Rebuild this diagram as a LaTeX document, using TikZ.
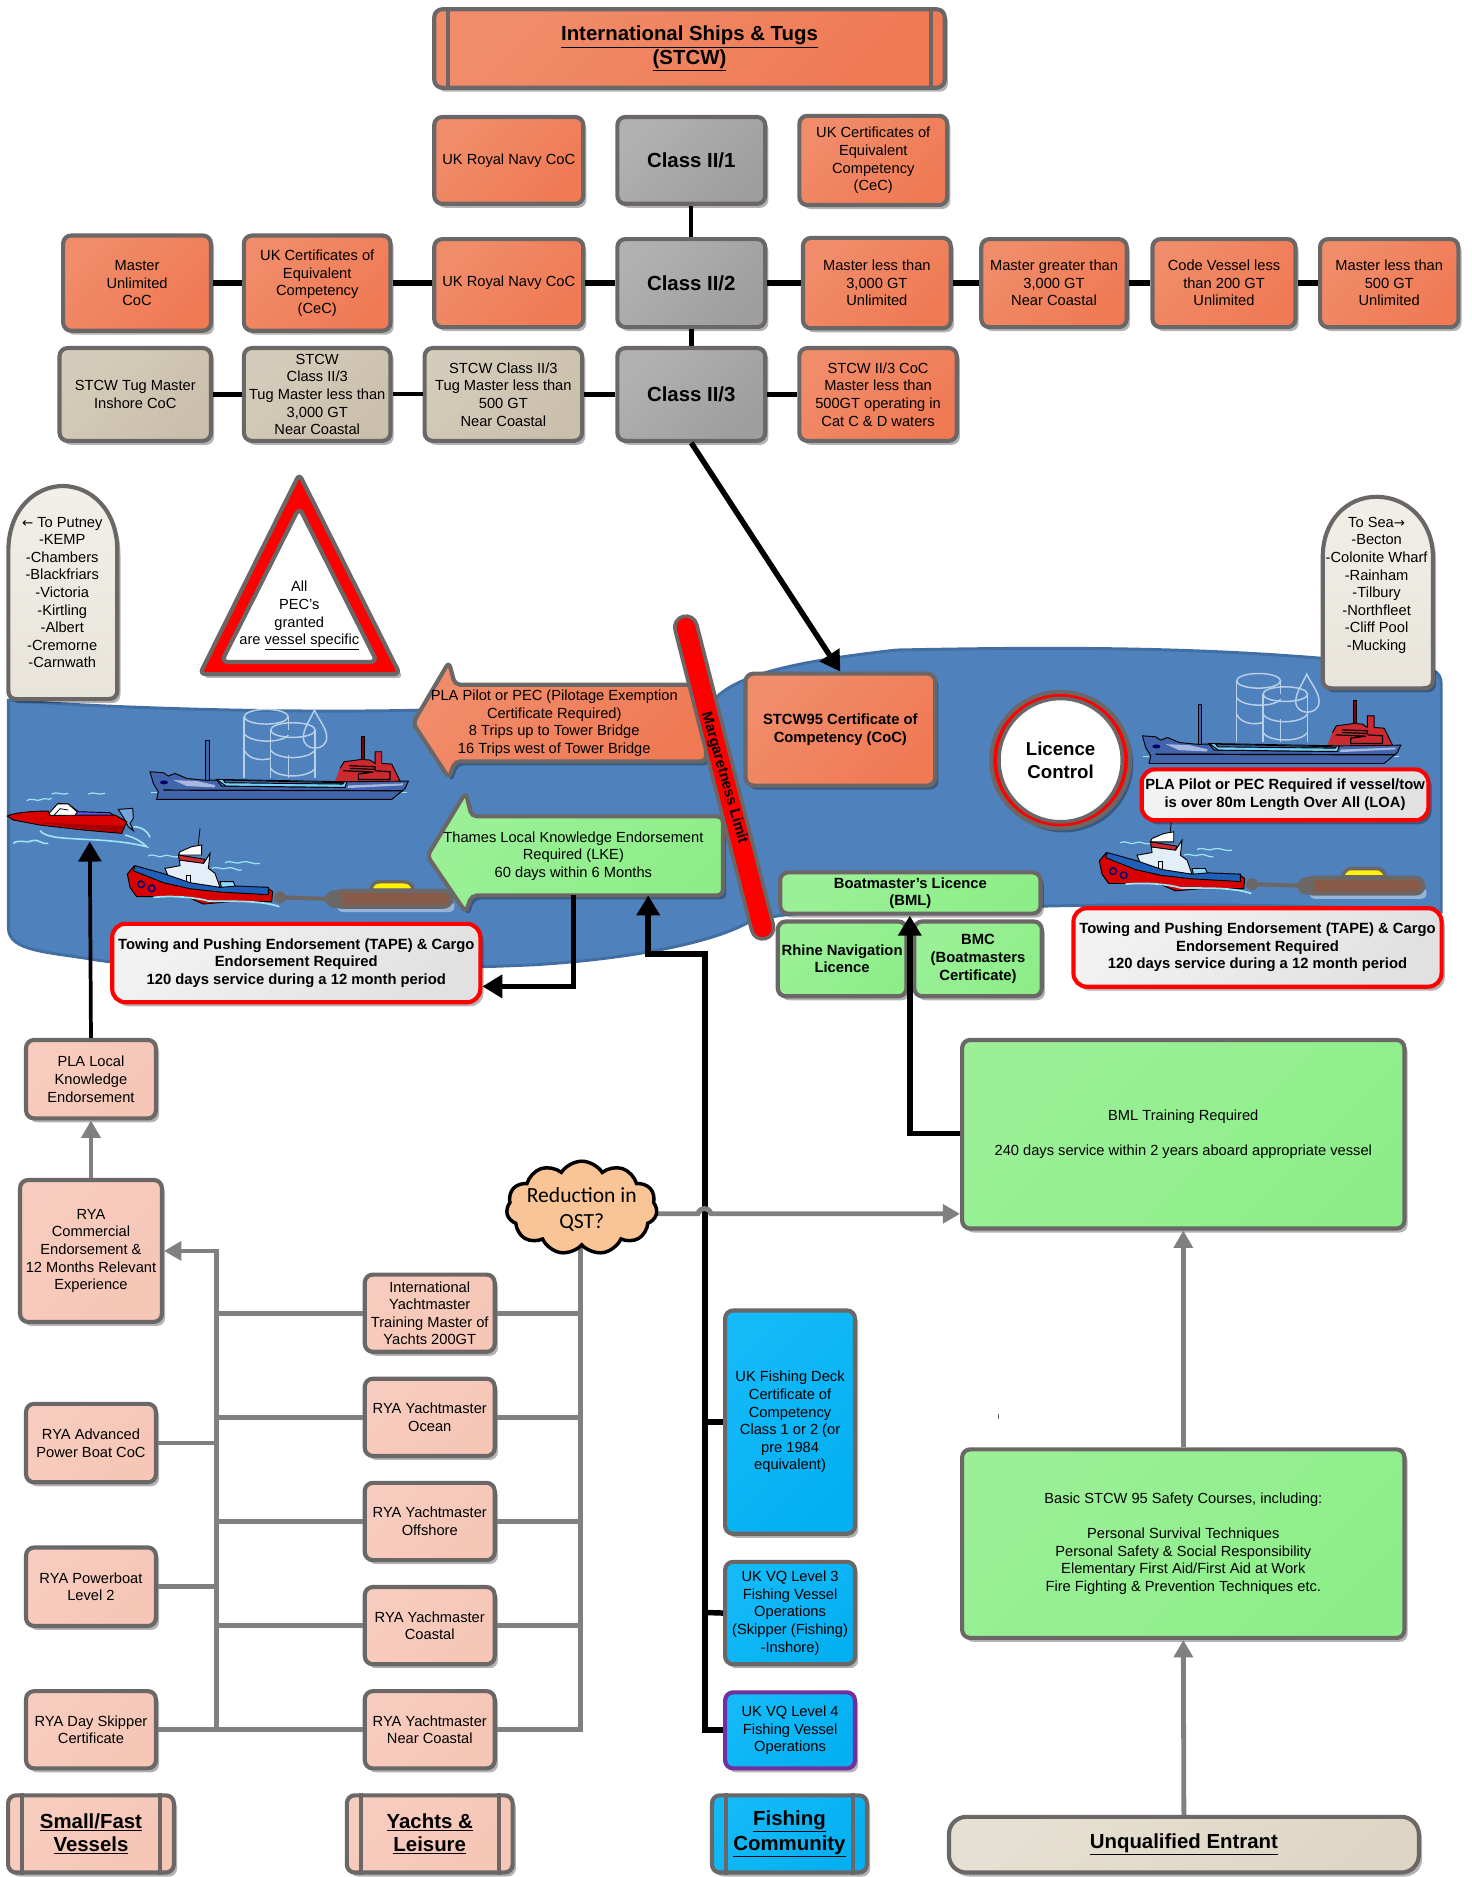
\documentclass[tikz,border=0pt]{standalone}
\usepackage{fontspec}
\setmainfont{Liberation Sans}
\newfontfamily\cloudfont{Carlito}
\newfontfamily\arrowfont{DejaVu Sans}
\usetikzlibrary{arrows.meta,shadows,shapes.symbols}
\definecolor{edgegray}{HTML}{6B6767}
\definecolor{river}{HTML}{4F81BD}
\definecolor{orangeA}{HTML}{F18C6A}
\definecolor{orangeB}{HTML}{EF7A54}
\definecolor{grayA}{HTML}{B1B1B1}
\definecolor{grayB}{HTML}{9E9E9E}
\definecolor{tanA}{HTML}{D4CCBA}
\definecolor{tanB}{HTML}{CABFAB}
\definecolor{pinkA}{HTML}{F7CCBE}
\definecolor{pinkB}{HTML}{F6C6B6}
\definecolor{greenA}{HTML}{9BF097}
\definecolor{greenB}{HTML}{8DEE89}
\definecolor{blueA}{HTML}{14BAF8}
\definecolor{blueB}{HTML}{04B0F1}
\definecolor{whiteA}{HTML}{F2F2F2}
\definecolor{whiteB}{HTML}{E1E1E1}
\definecolor{stoneA}{HTML}{F1EFE9}
\definecolor{stoneB}{HTML}{E8E4DB}
\definecolor{sandA}{HTML}{E6E0D2}
\definecolor{sandB}{HTML}{DED6C5}
\definecolor{wave}{HTML}{9FE6F5}
\definecolor{tankline}{HTML}{B8CFE8}
\definecolor{hullblue}{HTML}{4264AB}
\definecolor{hullpale}{HTML}{A8B8E0}
\definecolor{shipred}{HTML}{CC2A30}
\definecolor{tugblue}{HTML}{1F5FB8}
\definecolor{cabin}{HTML}{E3EEF9}
\definecolor{brownlog}{HTML}{8A5A48}
\definecolor{cloudfill}{HTML}{FAC596}
\definecolor{linegray}{HTML}{808080}
\definecolor{purpleedge}{HTML}{7030A0}
\newcommand\fsm{\fontsize{11}{13.2}\selectfont}
\newcommand\fsb{\fontsize{11.1}{13.2}\selectfont\bfseries}
\newcommand\flg{\fontsize{15.3}{17.6}\selectfont\bfseries}
\newcommand\flc{\fontsize{14}{17}\selectfont\bfseries}
\newcommand\arw[1]{{\arrowfont\fontsize{10}{13.2}\selectfont #1}}
\tikzset{
  softshadow/.style={drop shadow={shadow xshift=2.4pt,shadow yshift=-3pt,opacity=.3,fill=black}},
  basebox/.style={draw=edgegray,line width=3.1pt,rounded corners=6pt,inner sep=0pt,align=center,softshadow,font=\fsm,text=black},
  tint/.style 2 args={top color=#1,bottom color=#2,shading angle=45},
  orangebox/.style={basebox,tint={orangeA}{orangeB}},
  graybox/.style={basebox,tint={grayA}{grayB},font=\flg},
  tanbox/.style={basebox,tint={tanA}{tanB}},
  pinkbox/.style={basebox,tint={pinkA}{pinkB}},
  greenbox/.style={basebox,tint={greenA}{greenB}},
  bluebox/.style={basebox,tint={blueA}{blueB}},
  redbox/.style={basebox,draw=red,tint={whiteA}{whiteB},font=\fsb,rounded corners=10pt},
  conn/.style={line width=4.1pt,black},
  graywire/.style={line width=3.6pt,linegray},
  blackarrow/.style={line width=4.1pt,black,-{Triangle[length=15pt,width=17pt]}},
  grayarrow/.style={line width=3.6pt,linegray,-{Triangle[length=13pt,width=14pt]}},
  wavy/.style={wave,line width=.9pt},
  tank/.style={tankline,line width=1.1pt},
  outl/.style={draw=black,line width=.7pt},
}
\newcommand{\bx}[7]{%
  \pgfmathsetmacro\cx{(#3+#5)/2}\pgfmathsetmacro\cy{(#4+#6)/2}%
  \pgfmathsetmacro\bw{(#5-#3-1.5)*0.898}\pgfmathsetmacro\bh{(#6-#4-1.5)*0.898}%
  \node[#2,minimum width=\bw pt,minimum height=\bh pt] (#1) at (\cx,\cy) {#7};}
% tanker, in a local grid of 0.2785 units
\newcommand\tanker{%
 \begin{scope}[shift={(116.96,584.8)},x=0.2501pt,y=-0.2501pt]
  \draw[tank] (312,50) -- (312,235) (445,50) -- (445,90);
  \draw[tank] (378.5,50) ellipse [x radius=66,y radius=22];
  \draw[tank] (312,100) .. controls (330,130) and (425,130) .. (445,105);
  \draw[tank] (312,150) .. controls (330,185) and (375,180) .. (392,175);
  \draw[tank] (392,90) -- (392,235) (525,90) -- (525,235);
  \draw[tank] (458.5,90) ellipse [x radius=67,y radius=22];
  \draw[tank] (392,150) .. controls (410,180) and (505,180) .. (525,150);
  \draw[tank] (392,205) .. controls (410,235) and (505,235) .. (525,205);
  \draw[tank] (445,165) -- (445,235);
  \draw[tank] (523,30) .. controls (510,60) and (490,85) .. (490,112) .. controls (490,155) and (560,155) .. (560,112) .. controls (560,85) and (537,60) .. (523,30) -- cycle;
  \draw[wave,line width=.9pt] (33,278) -- (50,278) (785,278) -- (800,278);
  % superstructure
  \draw[outl,fill=black!50!red] (663,108) rectangle (672,185);
  \path[fill=shipred] (585,243) -- (600,205) -- (612,185) -- (665,178) -- (690,180) -- (705,190) -- (705,155) -- (725,155) -- (725,190) -- (755,192) -- (765,212) -- (780,243) -- cycle;
  \draw[black,line width=.7pt] (600,205) -- (612,185) -- (665,178) -- (690,180) -- (705,190) -- (705,155) -- (725,155) -- (725,190) -- (755,192) -- (765,212) -- (780,243);
  \draw[black,line width=.9pt] (628,197) -- (705,200) -- (705,208) -- (630,205) (610,212) -- (700,216) -- (655,222) -- (655,238) -- (750,238) -- (750,215) -- (705,212);
  % hull
  \draw[outl,fill=hullblue] (30,215) -- (70,218) -- (85,228) -- (105,220) -- (140,235) -- (190,240) -- (230,240) -- (245,258) -- (610,262) -- (622,245) -- (805,243) -- (795,265) -- (755,298) -- (50,298) -- (55,275) -- (40,250) -- cycle;
  \fill[hullpale] (100,240) -- (170,243) -- (225,255) -- (225,262) -- (140,258) -- cycle;
  \fill[hullpale] (625,256) -- (790,250) -- (788,256) -- (622,264) -- cycle;
  \draw[black,line width=.9pt] (70,270) -- (790,272);
  \fill[black!60!blue] (72,247) ellipse [x radius=12,y radius=6];
  \draw[outl,fill=hullblue] (197,122) rectangle (208,240);
  \draw[outl,fill=cyan!55!white] (230,238) -- (620,245) -- (615,262) -- (258,258) -- cycle;
  \draw[black,line width=.7pt,fill=hullblue] (250,240) -- (612,248) -- (608,252) -- (256,248) -- cycle;
 \end{scope}}
\newcommand\tugbarge{%
 \begin{scope}[shift={(100.25,668.3)},x=0.2501pt,y=-0.2501pt]
  % ripples
  \draw[wavy] (85,168) .. controls (105,158) and (110,176) .. (130,168) .. controls (145,160) and (155,175) .. (175,170);
  \draw[wavy] (315,188) .. controls (335,178) and (345,196) .. (365,186) .. controls (385,180) and (400,196) .. (420,190);
  \draw[wavy] (275,205) .. controls (295,197) and (305,212) .. (322,204) .. controls (338,198) and (350,214) .. (365,210);
  % barge and rope
  \fill[river!60!white] (650,310) -- (1003,310) -- (1003,325) .. controls (1000,335) and (990,336) .. (980,336) -- (670,336) .. controls (660,336) and (650,330) .. (650,310) -- cycle;
  \draw[edgegray,line width=2.6pt,fill=yellow] (752,270) .. controls (755,250) and (768,245) .. (780,245) -- (850,245) .. controls (865,245) and (878,252) .. (880,270) -- cycle;
  \draw[edgegray,line width=3.2pt] (480,292) -- (640,297);
  \fill[edgegray] (480,292) circle [radius=18];
  \draw[edgegray,line width=3.2pt,fill=brownlog,rounded corners=6pt] (640,273) rectangle (994,320);
  \fill[edgegray] (642,297) circle [radius=26];
  % cabin
  \draw[black,line width=.6pt] (240,85) -- (234,140);
  \draw[outl,fill=white] (175,165) -- (180,155) -- (215,140) -- (245,135) -- (245,165) -- cycle;
  \draw[outl,fill=cabin] (135,205) -- (180,197) -- (178,180) -- (252,188) -- (270,160) -- (265,205) -- (285,220) -- (300,262) -- (210,258) -- (150,242) -- cycle;
  \draw[outl,fill=shipred] (175,165) -- (255,178) -- (250,190) -- (178,180) -- cycle;
  \draw[outl,fill=cyan!45!white] (300,245) -- (340,245) -- (348,265) -- (305,265) -- cycle;
  \draw[black,line width=.7pt] (198,253) -- (198,225) -- (212,225) -- (212,256);
  % hull
  \draw[outl,fill=red!85!black] (22,222) -- (42,198) -- (135,240) -- (210,258) -- (300,268) -- (440,262) -- (458,275) -- (455,305) -- (330,305) -- (250,312) -- (200,290) -- (50,290) -- (30,262) -- cycle;
  \draw[outl,fill=tugblue] (45,197) -- (40,212) -- (130,248) -- (210,266) -- (300,276) -- (445,284) -- (445,262) -- (350,258) -- (300,262) -- (210,248) -- (135,222) -- cycle;
  \draw[blue!45!black,line width=1.1pt] (63,253) circle [radius=10] (95,265) circle [radius=10];
  \draw[wavy,line width=1.3pt] (100,292) .. controls (170,285) and (240,295) .. (265,303) .. controls (340,305) and (420,300) .. (478,320);
 \end{scope}}
\begin{document}
\begin{tikzpicture}[x=0.898pt,y=-0.898pt]
\useasboundingbox (0,0) rectangle (1229,1568);
% river
\draw[draw=river!85!black,line width=2.2pt,fill=river]
  (7,585) .. controls (100,592) and (250,596) .. (360,593) -- (590,595)
  .. controls (600,570) and (640,555) .. (749,543)
  .. controls (900,540) and (1050,540) .. (1197,560)
  .. controls (1202,562) and (1204,566) .. (1204,572) -- (1204,762)
  .. controls (1100,755) and (950,755) .. (870,757)
  .. controls (750,756) and (660,760) .. (626,770)
  .. controls (600,785) and (540,800) .. (446,806)
  .. controls (300,812) and (150,812) .. (81,802)
  .. controls (40,795) and (7,795) .. (7,775) -- cycle;
% clipart: tankers
\tanker
\begin{scope}[shift={(829,-30)}]\tanker\end{scope}
% clipart: tugs
\tugbarge
\begin{scope}[shift={(812,-11)}]\tugbarge\end{scope}
% speedboat
\begin{scope}[shift={(0,651.6)},x=0.2501pt,y=-0.2501pt]
  \draw[wavy] (80,62) .. controls (100,50) and (110,68) .. (125,58) .. controls (135,52) and (145,62) .. (155,55);
  \draw[wavy] (155,42) .. controls (170,32) and (185,48) .. (205,40);
  \draw[wavy] (265,42) .. controls (280,32) and (295,48) .. (315,40);
  \draw[wavy,line width=1.2pt] (40,190) .. controls (60,175) and (75,192) .. (95,182) .. controls (115,175) and (125,195) .. (145,190);
  \draw[wavy,line width=1.2pt] (120,152) .. controls (150,190) and (300,165) .. (440,200) .. controls (420,180) and (395,170) .. (375,165);
  \draw[wavy,line width=1.2pt] (400,140) .. controls (425,140) and (445,155) .. (450,172);
  \draw[outl,fill=cyan!55!blue!55!white] (355,88) -- (398,85) -- (400,115) -- (390,130) -- (400,152) -- (385,140) -- (375,120) -- cycle;
  \draw[outl,fill=blue!65!white] (150,100) -- (175,70) -- (205,72) -- (235,95) -- (330,98) -- (362,120) -- (230,112) -- cycle;
  \draw[outl,fill=white] (147,100) -- (172,72) -- (205,72) -- (232,96) -- (222,110) -- (150,107) -- cycle;
  \draw[black,line width=.6pt] (162,106) -- (180,86) -- (205,90);
  \draw[outl,fill=red!85!black] (22,108) .. controls (40,98) and (100,93) .. (145,93) -- (150,106) -- (345,105) -- (380,125) -- (365,160) -- (250,150) -- (120,135) -- (40,120) -- cycle;
  \fill[black!35!red] (110,127) -- (372,138) -- (365,157) -- (250,147) -- cycle;
\end{scope}
% triangle
\draw[line width=3.1pt,edgegray,fill=red,rounded corners=4pt,softshadow] (250,396) -- (334,563) -- (167,563) -- cycle;
\draw[line width=3.1pt,edgegray,fill=white,rounded corners=5pt] (250,424) -- (315,553) -- (185,553) -- cycle;
\node[font=\fsm,align=center,inner sep=0pt] (pec) at (250,514.5) {All\\PEC’s\\granted\\are \underline{vessel specific}};
% tombstones
\draw[line width=3.1pt,edgegray,top color=stoneA,bottom color=stoneB,softshadow] (7,460) .. controls (7,425) and (30,406) .. (52.5,406) .. controls (75,406) and (98,425) .. (98,460) -- (98,576) .. controls (98,582) and (95,584) .. (90,584) -- (15,584) .. controls (9,584) and (7,582) .. (7,576) -- cycle;
\node[font=\fsm,align=center,inner sep=0pt] (putney) at (52,495) {\arw{←} To Putney\\-KEMP\\-Chambers\\-Blackfriars\\-Victoria\\-Kirtling\\-Albert\\-Cremorne\\-Carnwath};
\draw[line width=3.1pt,edgegray,top color=stoneA,bottom color=stoneB,softshadow] (1105,465) .. controls (1105,435) and (1125,415) .. (1150,415) .. controls (1175,415) and (1197,435) .. (1197,465) -- (1197,568) .. controls (1197,573) and (1194,575) .. (1189,575) -- (1113,575) .. controls (1108,575) and (1105,573) .. (1105,568) -- cycle;
\node[font=\fsm,align=center,inner sep=0pt] (sea) at (1150,489) {To Sea\arw{→}\\-Becton\\-Colonite Wharf\\-Rainham\\-Tilbury\\-Northfleet\\-Cliff Pool\\-Mucking};
% big arrows
\draw[line width=3.1pt,edgegray,rounded corners=4pt,tint={orangeA}{orangeB},softshadow] (345,604) -- (375,553) -- (380,572) -- (590,572) -- (590,636) -- (380,636) -- (375,650) -- cycle;
\node[font=\fsm,align=center,inner sep=0pt] (pilot) at (463,604) {PLA Pilot or PEC (Pilotage Exemption\\Certificate Required)\\8 Trips up to Tower Bridge\\16 Trips west of Tower Bridge};
\draw[line width=3.1pt,edgegray,rounded corners=4pt,tint={greenA}{greenB},softshadow] (357,715) -- (389,662) -- (394,682) -- (604,682) -- (604,748) -- (394,748) -- (389,762) -- cycle;
\node[font=\fsm,align=center,inner sep=0pt] (lke) at (479,715) {Thames Local Knowledge Endorsement\\Required (LKE)\\60 days within 6 Months};
\coordinate (lkeout) at (479,748);
\coordinate (lkein) at (541.5,748);
% Margaretness bar
\draw[edgegray,line width=19.5pt,line cap=round] (573,524) -- (637,775);
\draw[red,line width=14pt,line cap=round] (573,524) -- (637,775);
\node[font=\fsb,rotate=-74,inner sep=0pt] (limit) at (605,650) {Margaretness Limit};
% top group
\bx{title}{orangebox,font=\flg}{362}{7}{790}{74}{\underline{International Ships \& Tugs}\\\underline{(STCW)}}
\draw[edgegray,line width=3.1pt] ([xshift=12pt]title.north west) -- ([xshift=12pt]title.south west);
\draw[edgegray,line width=3.1pt] ([xshift=-12pt]title.north east) -- ([xshift=-12pt]title.south east);
\bx{navyA}{orangebox}{362}{97}{488}{171}{UK Royal Navy CoC}
\bx{classA}{graybox}{515}{97}{640}{171}{Class II/1}
\bx{certA}{orangebox}{667}{96}{792}{172}{UK Certificates of\\Equivalent\\Competency\\(CeC)}
\bx{masterU}{orangebox}{52}{196}{177}{277}{Master\\Unlimited\\CoC}
\bx{certB}{orangebox}{203}{196}{327}{277}{UK Certificates of\\Equivalent\\Competency\\(CeC)}
\bx{navyB}{orangebox}{362}{199}{488}{274}{UK Royal Navy CoC}
\bx{classB}{graybox}{515}{199}{640}{274}{Class II/2}
\bx{mthree}{orangebox}{670}{198}{795}{275}{Master less than\\3,000 GT\\Unlimited}
\bx{mgreater}{orangebox}{819}{199}{942}{274}{Master greater than\\3,000 GT\\Near Coastal}
\bx{code}{orangebox}{962}{199}{1083}{274}{Code Vessel less\\than 200 GT\\Unlimited}
\bx{mfive}{orangebox}{1102}{199}{1219}{274}{Master less than\\500 GT\\Unlimited}
\bx{tugin}{tanbox}{49}{290}{177}{369}{STCW Tug Master\\Inshore CoC}
\bx{tugthree}{tanbox}{203}{290}{327}{369}{STCW\\Class II/3\\Tug Master less than\\3,000 GT\\Near Coastal}
\bx{tugfive}{tanbox}{354}{290}{487}{369}{STCW Class II/3\\Tug Master less than\\500 GT\\Near Coastal}
\bx{classC}{graybox}{515}{290}{640}{369}{Class II/3}
\bx{cocthree}{orangebox}{667}{290}{800}{369}{STCW II/3 CoC\\Master less than\\500GT operating in\\Cat C \& D waters}
\draw[conn,line width=2.8pt] (classA.south) -- (classB.north);
\draw[conn] (classB.south) -- (classC.north);
\draw[conn] (masterU.east) -- (certB.west);
\draw[conn] (certB.east) -- (navyB.west);
\draw[conn] (navyB.east) -- (classB.west);
\draw[conn] (classB.east) -- (mthree.west);
\draw[conn] (mthree.east) -- (mgreater.west);
\draw[conn] (mgreater.east) -- (code.west);
\draw[conn] (code.east) -- (mfive.west);
\draw[conn] (tugin.east) -- (tugthree.west);
\draw[conn,line width=3pt] (tugthree.east) -- (tugfive.west);
\draw[conn] (tugfive.east) -- (classC.west);
\draw[conn] (classC.east) -- (cocthree.west);
% river boxes
\bx{stcwcoc}{orangebox,font=\fsb}{622}{562}{782}{657}{STCW95 Certificate of\\Competency (CoC)}
\draw[blackarrow] (classC.south) -- (stcwcoc.north);
\draw[line width=3.1pt,edgegray,fill=red,softshadow] (886,635) ellipse [x radius=58,y radius=57];
\node[circle,draw=edgegray,line width=2.7pt,fill=white,font=\flc,align=center,inner sep=0pt,minimum size=92.5pt] (licence) at (886,635) {Licence\\Control};
\bx{pilotreq}{redbox}{953}{642}{1194}{686}{PLA Pilot or PEC Required if vessel/tow\\is over 80m Length Over All (LOA)}
\bx{taperight}{redbox}{896}{758}{1205}{825}{Towing and Pushing Endorsement (TAPE) \& Cargo\\Endorsement Required\\120 days service during a 12 month period}
\bx{tapeleft}{redbox}{93}{771}{402}{838}{Towing and Pushing Endorsement (TAPE) \& Cargo\\Endorsement Required\\120 days service during a 12 month period}
\bx{bml}{greenbox,font=\fsb}{651}{728}{870}{764}{Boatmaster's Licence\\(BML)}
\bx{rhine}{greenbox,font=\fsb}{649}{769}{758}{833}{Rhine Navigation\\Licence}
\bx{bmc}{greenbox,font=\fsb}{763}{769}{871}{833}{BMC\\(Boatmasters\\Certificate)}
% lower boxes
\bx{plalocal}{pinkbox}{21}{868}{131}{935}{PLA Local\\Knowledge\\Endorsement}
\bx{ryacom}{pinkbox}{16}{985}{136}{1105}{RYA\\Commercial\\Endorsement \&\\12 Months Relevant\\Experience}
\bx{ryaadv}{pinkbox}{21}{1172}{131}{1239}{RYA Advanced\\Power Boat CoC}
\bx{ryapower}{pinkbox}{21}{1292}{131}{1359}{RYA Powerboat\\Level 2}
\bx{ryaday}{pinkbox}{21}{1412}{131}{1478}{RYA Day Skipper\\Certificate}
\bx{intl}{pinkbox}{304}{1064}{414}{1130}{International\\Yachtmaster\\Training Master of\\Yachts 200GT}
\bx{ocean}{pinkbox}{304}{1151}{414}{1217}{RYA Yachtmaster\\Ocean}
\bx{offshore}{pinkbox}{304}{1238}{414}{1304}{RYA Yachtmaster\\Offshore}
\bx{coastal}{pinkbox}{304}{1325}{414}{1391}{RYA Yachmaster\\Coastal}
\bx{near}{pinkbox}{304}{1412}{414}{1478}{RYA Yachtmaster\\Near Coastal}
\bx{fishdeck}{bluebox}{605}{1094}{715}{1282}{UK Fishing Deck\\Certificate of\\Competency\\Class 1 or 2 (or\\pre 1984\\equivalent)}
\bx{vqthree}{bluebox}{605}{1304}{715}{1391}{UK VQ Level 3\\Fishing Vessel\\Operations\\(Skipper (Fishing)\\-Inshore)}
\bx{vqfour}{bluebox,draw=purpleedge}{605}{1413}{715}{1478}{UK VQ Level 4\\Fishing Vessel\\Operations}
\bx{bmltrain}{greenbox}{803}{868}{1174}{1027}{BML Training Required\\[13.2pt]240 days service within 2 years aboard appropriate vessel}
\bx{basic}{greenbox}{803}{1210}{1174}{1369}{Basic STCW 95 Safety Courses, including:\\[13.2pt]Personal Survival Techniques\\Personal Safety \& Social Responsibility\\Elementary First Aid/First Aid at Work\\Fire Fighting \& Prevention Techniques etc.}
% footer boxes
\bx{small}{pinkbox,font=\flg}{6}{1499}{146}{1565}{\underline{Small/Fast}\\\underline{Vessels}}
\draw[edgegray,line width=3.1pt] ([xshift=12pt]small.north west) -- ([xshift=12pt]small.south west);
\draw[edgegray,line width=3.1pt] ([xshift=-12pt]small.north east) -- ([xshift=-12pt]small.south east);
\bx{yachts}{pinkbox,font=\flg}{289}{1499}{429}{1565}{\underline{Yachts \&}\\\underline{Leisure}}
\draw[edgegray,line width=3.1pt] ([xshift=12pt]yachts.north west) -- ([xshift=12pt]yachts.south west);
\draw[edgegray,line width=3.1pt] ([xshift=-12pt]yachts.north east) -- ([xshift=-12pt]yachts.south east);
\bx{fishing}{bluebox,font=\flg}{594}{1499}{725}{1565}{\underline{Fishing}\\[1.5pt]\underline{Community}}
\draw[edgegray,line width=3.1pt] ([xshift=12pt]fishing.north west) -- ([xshift=12pt]fishing.south west);
\draw[edgegray,line width=3.1pt] ([xshift=-12pt]fishing.north east) -- ([xshift=-12pt]fishing.south east);
\bx{entrant}{basebox,tint={sandA}{sandB},font=\flg,rounded corners=13pt}{792}{1517}{1186}{1565}{\underline{Unqualified Entrant}}
% gray connectors that pass behind the cloud
\coordinate (cloudright) at (546,1014);
\coordinate (cloudbottom) at (485,1040);
\draw[grayarrow] (cloudright) -- (583,1014) .. controls (585,1008) and (592,1008) .. (594,1014) -- (bmltrain.west |- 0,1014);
\draw[graywire] (cloudbottom) -- (485,1445) -- (near.east |- 0,1445);
% cloud: empty shape, with the text in its own node so that the shape keeps its size
\node[cloud,cloud puffs=11,cloud puff arc=115,aspect=1.6,draw=black,line width=2.6pt,fill=cloudfill,inner sep=0pt,minimum width=113pt,minimum height=70pt] (reduction) at (486,1009) {};
\node[align=center,inner sep=0pt,font=\cloudfont\fontsize{16.2}{19.5}\selectfont] (reductiontext) at (486,1010) {Reduction in\\QST?};
% black connectors
\coordinate (boat) at (75,703);
\draw[black,line width=2.8pt,-{Triangle[length=15pt,width=17pt]}] (plalocal.north) -- (boat);
\draw[blackarrow] (lkeout) -- (479,824) -- (tapeleft.east |- 0,824);
\draw[blackarrow] (vqfour.west |- 0,1445) -- (589,1445) -- (589,797) -- (541.5,797) -- (lkein);
\draw[conn] (589,1188) -- (fishdeck.west);
\draw[conn] (589,1347) -- (vqthree.west);
\draw[blackarrow] (bmltrain.west |- 0,947) -- (760,947) -- (bml.south -| 760,0);
% gray hop redrawn over the black line
\draw[graywire] (583,1014) .. controls (585,1008) and (592,1008) .. (594,1014);
% gray connectors
\draw[grayarrow] (plalocal.south |- ryacom.north) -- (plalocal.south);
\draw[grayarrow] (basic.north) -- (bmltrain.south);
\draw[grayarrow] (entrant.north) -- (basic.south);
\draw[graywire] (intl.east) -- (485,1097);
\draw[graywire] (ocean.east) -- (485,1184);
\draw[graywire] (offshore.east) -- (485,1271);
\draw[graywire] (coastal.east) -- (485,1358);
\draw[graywire] (intl.west) -- (181,1097);
\draw[graywire] (ocean.west) -- (181,1184);
\draw[graywire] (offshore.west) -- (181,1271);
\draw[graywire] (coastal.west) -- (181,1358);
\draw[graywire] (near.west) -- (ryaday.east);
\draw[graywire] (ryaadv.east) -- (181,1205.5);
\draw[graywire] (ryapower.east) -- (181,1325.5);
\draw[grayarrow] (181,1445) -- (181,1045) -- (ryacom.east);
\coordinate (tickA) at (834,1181);
\coordinate (tickB) at (834,1185);
\draw[black!60,line width=.5pt] (tickA) -- (tickB);
\end{tikzpicture}
\end{document}
